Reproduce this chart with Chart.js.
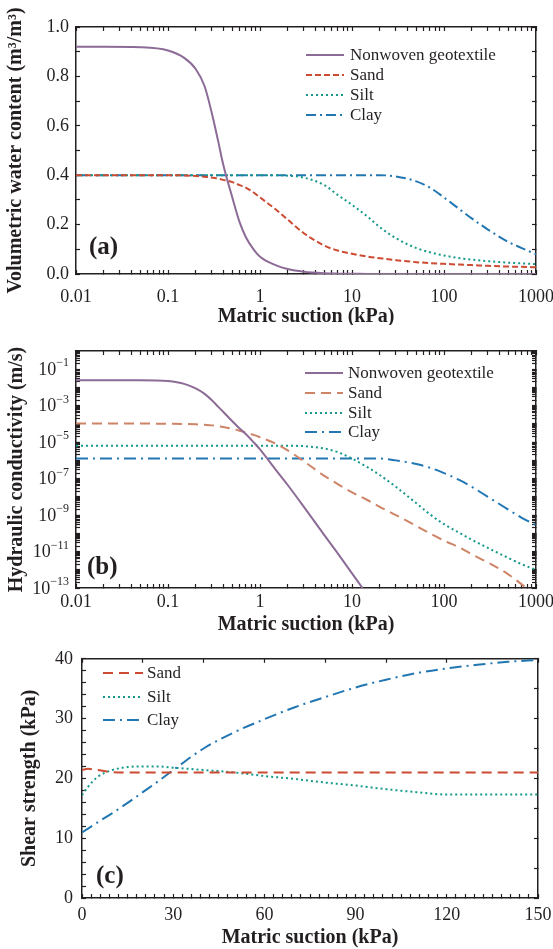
<!DOCTYPE html>
<html lang="en">
<head>
<meta charset="UTF-8">
<title>Water content, hydraulic conductivity and shear strength</title>
<script src="https://cdn.jsdelivr.net/npm/chart.js"></script>
<style>
  html, body { margin: 0; background: #fff; overflow: hidden; }
  canvas { display: block; }
</style>
</head>
<body>
<canvas id="chartA" width="553" height="325"></canvas>
<canvas id="chartB" width="553" height="310"></canvas>
<canvas id="chartC" width="553" height="314"></canvas>
<script>
// ---- data ----
const suction = [0.01, 0.02, 0.05, 0.1, 0.15, 0.2, 0.25, 0.3, 0.35, 0.4, 0.5, 0.6, 0.7, 0.85, 1,
  1.5, 2, 3, 5, 7, 10, 15, 20, 30, 50, 70, 100, 150, 200, 300, 500, 700, 1000];
const logTicks = [0.01, 0.1, 1, 10, 100, 1000];
const logTickLabels = ['0.01', '0.1', '1', '10', '100', '1000'];

// (a) volumetric water content, m3/m3
const geoTheta = [0.92, 0.92, 0.918, 0.905, 0.875, 0.83, 0.76, 0.65, 0.54, 0.44, 0.31, 0.21, 0.15, 0.1, 0.07,
  0.035, 0.02, 0.009, 0.003, 0.0015, 0.001, 0.0005, 0, 0, 0, 0, 0, 0, 0, 0, 0, 0, 0];
const sandTheta = [0.4, 0.4, 0.4, 0.4, 0.399, 0.397, 0.394, 0.39, 0.386, 0.381, 0.372, 0.36, 0.35, 0.33, 0.31,
  0.26, 0.22, 0.165, 0.115, 0.095, 0.082, 0.07, 0.064, 0.056, 0.048, 0.044, 0.041, 0.038, 0.036, 0.033, 0.03, 0.029, 0.027];
const siltTheta = [0.4, 0.4, 0.4, 0.4, 0.4, 0.4, 0.4, 0.4, 0.4, 0.4, 0.4, 0.4, 0.4, 0.4, 0.4,
  0.4, 0.398, 0.39, 0.36, 0.32, 0.28, 0.23, 0.19, 0.145, 0.105, 0.088, 0.075, 0.064, 0.058, 0.052, 0.046, 0.043, 0.04];
const clayTheta = [0.4, 0.4, 0.4, 0.4, 0.4, 0.4, 0.4, 0.4, 0.4, 0.4, 0.4, 0.4, 0.4, 0.4, 0.4,
  0.4, 0.4, 0.4, 0.4, 0.4, 0.4, 0.4, 0.4, 0.395, 0.375, 0.35, 0.31, 0.26, 0.225, 0.18, 0.13, 0.105, 0.08];

// (b) hydraulic conductivity, m/s
const geoSuctionK = [0.01, 0.02, 0.05, 0.1, 0.15, 0.2, 0.25, 0.3, 0.35, 0.4, 0.5, 0.6, 0.7, 0.85, 1,
  1.5, 2, 3, 5, 7, 10, 13];
const geoK = [2.51e-2, 2.51e-2, 2.51e-2, 2.24e-2, 1.58e-2, 8.91e-3, 4.47e-3, 2.0e-3, 8.91e-4, 4.47e-4, 1.41e-4,
  5.62e-5, 2.82e-5, 1.0e-5, 3.98e-6, 2.82e-7, 4.47e-8, 2.82e-9, 7.94e-11, 7.94e-12, 6.31e-13, 1.0e-13];
const sandK = [1.05e-4, 1.05e-4, 1.05e-4, 1.02e-4, 1.0e-4, 9.55e-5, 8.91e-5, 8.32e-5, 7.59e-5, 6.76e-5, 5.37e-5,
  4.27e-5, 3.39e-5, 2.51e-5, 1.86e-5, 7.94e-6, 3.55e-6, 8.91e-7, 1.41e-7, 5.01e-8, 1.78e-8, 6.31e-9, 2.82e-9,
  1.0e-9, 2.51e-10, 1.0e-10, 3.98e-11, 1.58e-11, 7.08e-12, 2.51e-12, 5.62e-13, 1.58e-13, 3.98e-14];
const siltK = [6.31e-6, 6.31e-6, 6.31e-6, 6.31e-6, 6.31e-6, 6.31e-6, 6.31e-6, 6.31e-6, 6.31e-6, 6.31e-6, 6.31e-6,
  6.31e-6, 6.31e-6, 6.31e-6, 6.31e-6, 6.31e-6, 6.31e-6, 6.03e-6, 4.47e-6, 2.82e-6, 1.26e-6, 3.98e-7, 1.58e-7,
  3.55e-8, 4.47e-9, 1.12e-9, 3.16e-10, 1.0e-10, 4.47e-11, 1.58e-11, 4.47e-12, 2.0e-12, 1.0e-12];
const clayK = [1.26e-6, 1.26e-6, 1.26e-6, 1.26e-6, 1.26e-6, 1.26e-6, 1.26e-6, 1.26e-6, 1.26e-6, 1.26e-6, 1.26e-6,
  1.26e-6, 1.26e-6, 1.26e-6, 1.26e-6, 1.26e-6, 1.26e-6, 1.26e-6, 1.26e-6, 1.26e-6, 1.26e-6, 1.26e-6, 1.26e-6,
  1.0e-6, 6.31e-7, 3.98e-7, 2.0e-7, 7.94e-8, 3.55e-8, 1.0e-8, 2.0e-9, 7.08e-10, 2.82e-10];
const kTickExponents = [-1, -3, -5, -7, -9, -11, -13];

// (c) shear strength, kPa
const suctionLin = [0, 2, 5, 10, 15, 20, 25, 30, 40, 50, 60, 70, 80, 90, 100, 110, 120, 130, 140, 150];
const sandTau = [21.4, 21.6, 21.4, 21.05, 21, 21, 21, 21, 21, 21, 21, 21, 21, 21, 21, 21, 21, 21, 21, 21];
const siltTau = [17.2, 18.6, 20.2, 21.4, 21.9, 22.0, 22.0, 21.8, 21.4, 21.0, 20.4, 19.9, 19.3, 18.8, 18.2, 17.7, 17.3, 17.3, 17.3, 17.3];
const clayTau = [11.0, 11.6, 12.6, 14.2, 15.9, 17.7, 19.5, 21.4, 25.0, 27.7, 29.9, 31.9, 33.6, 35.2, 36.5, 37.6, 38.4, 39.0, 39.5, 39.8];

// ---- styling ----
const SERIF = "'Liberation Serif', 'Times New Roman', serif";
const INK = '#231f20';
Chart.defaults.font.family = SERIF;
Chart.defaults.color = INK;

const colors = { geo: '#8d6b97', sand: '#cc4b32', sandB: '#cd8467', silt: '#16998a', clay: '#2277b3' };

function series(label, xs, ys, color, dash) {
  return {
    label: label,
    data: xs.map((x, i) => ({ x: x, y: ys[i] })),
    borderColor: color,
    borderDash: dash,
    borderWidth: 2,
    pointRadius: 0,
    cubicInterpolationMode: 'monotone',
    fill: false
  };
}

// decade ticks plus the 2..9 minor ticks between them
function logWithMinor(lo, hi) {
  const out = [];
  for (let d = lo; d < hi * 0.99; d *= 10) {
    for (let k = 1; k <= 9; k++) out.push(d * k);
  }
  out.push(hi);
  return out.map(v => ({ value: v }));
}

// inward tick marks and a border on every side of the plot box
const tickGrid = { display: true, drawOnChartArea: false, drawTicks: true, tickLength: -4, color: INK, tickWidth: 1.2 };
const boxBorder = { display: true, color: INK, width: 1.5 };

// x axis: fixed height, and no extra side padding for the end labels
function fixHeight(h) {
  return s => { s.height = h; s.paddingLeft = 0; s.paddingRight = 0; };
}

function mirror(base, position) {
  const s = Object.assign({}, base, {
    position: position,
    ticks: { display: false },
    title: { display: false },
    grid: tickGrid,
    border: boxBorder
  });
  if (position === 'top') s.afterFit = fixHeight(0);
  else s.afterFit = sc => { sc.width = 0; sc.paddingTop = 0; sc.paddingBottom = 0; };
  return s;
}

// panel letter, legend inside the plot, power-of-ten labels
const annotations = {
  id: 'annotations',
  afterDraw(chart, args, opts) {
    const ctx = chart.ctx;
    const a = chart.chartArea;
    ctx.save();
    ctx.fillStyle = INK;
    ctx.font = 'bold 25px ' + SERIF;
    ctx.textAlign = 'left';
    ctx.textBaseline = 'middle';
    ctx.fillText(opts.panel.text, opts.panel.x, opts.panel.y);

    const lg = opts.legend;
    ctx.font = '17px ' + SERIF;
    chart.data.datasets.forEach((ds, i) => {
      const y = lg.rows[i];
      ctx.save();
      ctx.strokeStyle = ds.borderColor;
      ctx.lineWidth = ds.borderWidth;
      ctx.setLineDash(ds.borderDash || []);
      ctx.beginPath();
      ctx.moveTo(lg.x0, y);
      ctx.lineTo(lg.x1, y);
      ctx.stroke();
      ctx.restore();
      ctx.fillText(ds.label, lg.tx, y + 1);
    });

    if (opts.powers) {
      const sy = chart.scales.y;
      kTickExponents.forEach(e => {
        const p = sy.getPixelForValue(Math.pow(10, e));
        const exp = String(e).replace('-', '\u2212');
        ctx.textAlign = 'right';
        ctx.font = '12px ' + SERIF;
        const ew = ctx.measureText(exp).width;
        ctx.fillText(exp, a.left - 7, p - 6);
        ctx.font = '18px ' + SERIF;
        ctx.fillText('10', a.left - 7 - ew, p + 1);
      });
    }
    ctx.restore();
  }
};

function axisTitle(text, pad) {
  return { display: true, text: text, font: { size: 20, weight: 'bold', lineHeight: 1 }, padding: pad, color: INK };
}

function baseOptions(padding, scales, notes) {
  return {
    responsive: false,
    animation: false,
    devicePixelRatio: 1,
    layout: { padding: padding },
    plugins: { legend: { display: false }, tooltip: { enabled: false }, annotations: notes },
    scales: scales
  };
}

const logLabel = v => { const i = logTicks.indexOf(v); return i >= 0 ? logTickLabels[i] : ''; };

// ---- (a) ----
const xLogA = {
  type: 'logarithmic', min: 0.01, max: 1000,
  afterBuildTicks: s => { s.ticks = logWithMinor(0.01, 1000); }
};
const yThetaA = { type: 'linear', min: 0, max: 1, ticks: { stepSize: 0.1 } };
new Chart(document.getElementById('chartA'), {
  type: 'line',
  data: { datasets: [
    series('Nonwoven geotextile', suction, geoTheta, colors.geo, []),
    series('Sand', suction, sandTheta, colors.sand, [6, 3]),
    series('Silt', suction, siltTheta, colors.silt, [2, 3]),
    series('Clay', suction, clayTheta, colors.clay, [10, 4, 2, 4])
  ]},
  options: baseOptions({ left: 0, right: 17, top: 27, bottom: 0 }, {
    x: Object.assign({}, xLogA, {
      grid: tickGrid, border: boxBorder,
      ticks: { callback: v => logLabel(v), padding: 16, maxRotation: 0, autoSkip: false, font: { size: 18 } },
      title: axisTitle('Matric suction (kPa)', { top: 0, bottom: -2 }),
      afterFit: fixHeight(51)
    }),
    x2: mirror(xLogA, 'top'),
    y: Object.assign({}, yThetaA, {
      grid: tickGrid, border: boxBorder,
      ticks: { stepSize: 0.1, autoSkip: false, padding: 11, font: { size: 18 },
               callback: v => (Math.round(v * 10) % 2 === 0 ? v.toFixed(1) : '') },
      title: axisTitle('Volumetric water content (m\u00b3/m\u00b3)', { top: 6, bottom: 0 }),
      afterFit: s => { s.width = 76; }
    }),
    y2: mirror(yThetaA, 'right')
  }, {
    panel: { text: '(a)', x: 89, y: 248 },
    legend: { x0: 306, x1: 344, tx: 350, rows: [55, 75, 95, 115] }
  }),
  plugins: [annotations]
});

// ---- (b) ----
const xLogB = {
  type: 'logarithmic', min: 0.01, max: 1000,
  afterBuildTicks: s => { s.ticks = logWithMinor(0.01, 1000); }
};
const yLogB = {
  type: 'logarithmic', min: 1e-13, max: 1,
  afterBuildTicks: s => { s.ticks = logWithMinor(1e-13, 1); }
};
new Chart(document.getElementById('chartB'), {
  type: 'line',
  data: { datasets: [
    series('Nonwoven geotextile', geoSuctionK, geoK, colors.geo, []),
    series('Sand', suction, sandK, colors.sandB, [10, 6]),
    series('Silt', suction, siltK, colors.silt, [2, 3]),
    series('Clay', suction, clayK, colors.clay, [12, 5, 2, 5])
  ]},
  options: baseOptions({ left: 0, right: 17, top: 26, bottom: 0 }, {
    x: Object.assign({}, xLogB, {
      grid: tickGrid, border: boxBorder,
      ticks: { callback: v => logLabel(v), padding: 7, maxRotation: 0, autoSkip: false, font: { size: 18 } },
      title: axisTitle('Matric suction (kPa)', { top: 0, bottom: 0 }),
      afterFit: fixHeight(47)
    }),
    x2: mirror(xLogB, 'top'),
    y: Object.assign({}, yLogB, {
      grid: tickGrid, border: boxBorder,
      ticks: { display: false },
      title: axisTitle('Hydraulic conductivity (m/s)', { top: 7, bottom: 0 }),
      afterFit: s => { s.width = 76; }
    }),
    y2: mirror(yLogB, 'right')
  }, {
    powers: true,
    panel: { text: '(b)', x: 87, y: 243 },
    legend: { x0: 305, x1: 343, tx: 348, rows: [48, 68, 88, 107] }
  }),
  plugins: [annotations]
});

// ---- (c) ----
const xLinC = { type: 'linear', min: 0, max: 150, ticks: { stepSize: 3 } };
const yLinC = { type: 'linear', min: 0, max: 40, ticks: { stepSize: 2 } };
new Chart(document.getElementById('chartC'), {
  type: 'line',
  data: { datasets: [
    series('Sand', suctionLin, sandTau, colors.sand, [10, 6]),
    series('Silt', suctionLin, siltTau, colors.silt, [2, 3]),
    series('Clay', suctionLin, clayTau, colors.clay, [12, 5, 2, 5])
  ]},
  options: baseOptions({ left: 0, right: 15, top: 20, bottom: 0 }, {
    x: Object.assign({}, xLinC, {
      grid: tickGrid, border: boxBorder,
      ticks: { stepSize: 3, autoSkip: false, padding: 10, maxRotation: 0, font: { size: 18 },
               callback: v => (Math.round(v) % 30 === 0 ? String(Math.round(v)) : '') },
      title: axisTitle('Matric suction (kPa)', { top: 0, bottom: 1 }),
      afterFit: fixHeight(51)
    }),
    x2: mirror(xLinC, 'top'),
    y: Object.assign({}, yLinC, {
      grid: tickGrid, border: boxBorder,
      ticks: { stepSize: 2, autoSkip: false, padding: 13, font: { size: 18 },
               callback: v => (Math.round(v) % 10 === 0 ? String(Math.round(v)) : '') },
      title: axisTitle('Shear strength (kPa)', { top: 20, bottom: 0 }),
      afterFit: s => { s.width = 82; }
    }),
    y2: mirror(yLinC, 'right')
  }, {
    panel: { text: '(c)', x: 96, y: 242 },
    legend: { x0: 103, x1: 143, tx: 147, rows: [38, 62, 85] }
  }),
  plugins: [annotations]
});
</script>
</body>
</html>
